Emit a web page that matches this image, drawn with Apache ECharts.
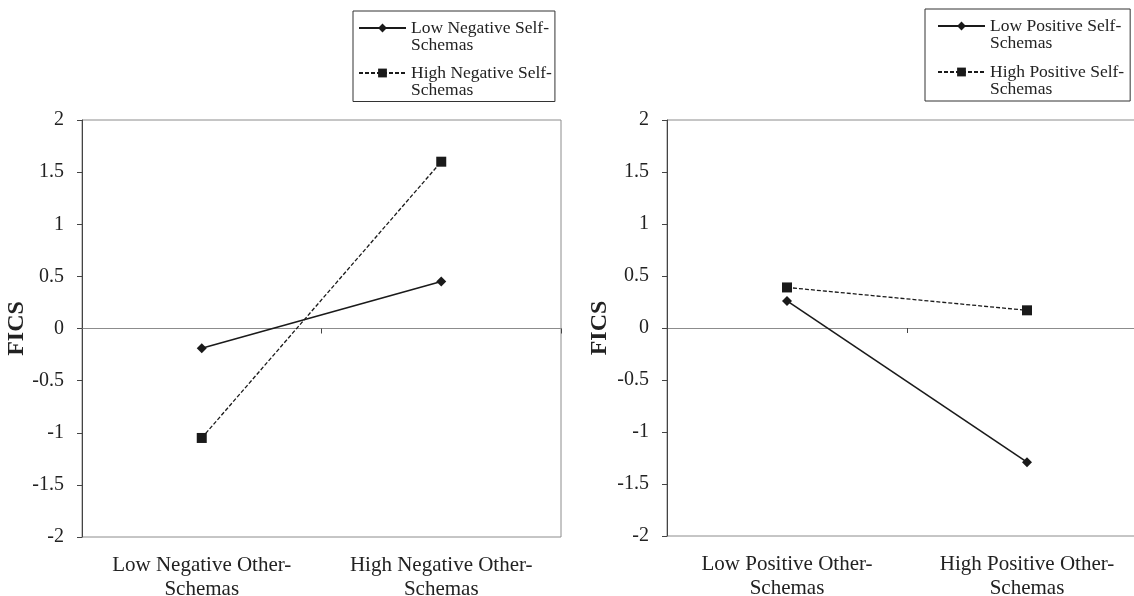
<!DOCTYPE html>
<html>
<head>
<meta charset="utf-8">
<script src="https://cdn.jsdelivr.net/npm/echarts@6/dist/echarts.min.js"></script>
<style>
html,body{margin:0;padding:0;background:#fff;}
#chart{width:1134px;height:596px;}
</style>
</head>
<body>
<div id="chart"></div>
<script>
// ---- data ----
var leftCategories = ['Low Negative Other-\nSchemas', 'High Negative Other-\nSchemas'];
var rightCategories = ['Low Positive Other-\nSchemas', 'High Positive Other-\nSchemas'];
var leftSeriesNames = ['Low Negative Self-\nSchemas', 'High Negative Self-\nSchemas'];
var rightSeriesNames = ['Low Positive Self-\nSchemas', 'High Positive Self-\nSchemas'];
var lowNegativeSelf = [-0.19, 0.45];
var highNegativeSelf = [-1.05, 1.6];
var lowPositiveSelf = [0.26, -1.29];
var highPositiveSelf = [0.39, 0.17];
var yMin = -2, yMax = 2, yInterval = 0.5;
var yAxisName = 'FICS';

var FONT = 'Liberation Serif';
var TXT = '#222';
var AXIS_DARK = '#444';
var BORDER = '#8c8c8c';

function catAxis(gridIndex, cats, withLabels) {
  if (withLabels) {
    return {
      type: 'category', gridIndex: gridIndex, data: cats, position: 'bottom',
      boundaryGap: true,
      axisLine: {show: false, onZero: false},
      axisTick: {show: false},
      axisLabel: {fontFamily: FONT, fontSize: 21, color: TXT, lineHeight: 24, margin: 16, interval: 0}
    };
  }
  return {
    type: 'category', gridIndex: gridIndex, data: cats, position: 'top',
    boundaryGap: true,
    axisLine: {show: true, onZero: true, lineStyle: {color: BORDER, width: 1}},
    axisTick: {show: true, inside: true, length: 5, lineStyle: {color: AXIS_DARK, width: 1}},
    axisLabel: {show: false}
  };
}

function valAxis(gridIndex, nameGap) {
  return {
    type: 'value', gridIndex: gridIndex, min: yMin, max: yMax, interval: yInterval,
    name: yAxisName, nameLocation: 'middle', nameGap: nameGap,
    nameTextStyle: {fontFamily: FONT, fontSize: 24, fontWeight: 'bold', color: TXT},
    axisLine: {show: true, lineStyle: {color: AXIS_DARK, width: 1}},
    axisTick: {show: true, length: 5, lineStyle: {color: AXIS_DARK}},
    axisLabel: {fontFamily: FONT, fontSize: 20, color: TXT, margin: 18},
    splitLine: {show: false}
  };
}

function lineSeries(name, data, xi, yi, symbol, dashed) {
  return {
    type: 'line', name: name, data: data, xAxisIndex: xi, yAxisIndex: yi,
    symbol: symbol, symbolSize: 10, showSymbol: true,
    itemStyle: {color: '#1a1a1a'},
    lineStyle: {color: '#1a1a1a', width: dashed ? 1.3 : 1.6, type: dashed ? [4, 2] : 'solid'},
    emphasis: {disabled: true},
    animation: false
  };
}

function legend(left, top, names, gap, padding) {
  return {
    orient: 'vertical', left: left, top: top, data: names,
    itemWidth: 47, itemHeight: 11, itemGap: gap,
    borderColor: '#333', borderWidth: 1,
    padding: padding,
    // leading blank line keeps the icon level with the first text line
    formatter: function (name) { return ' \n' + name; },
    textStyle: {fontFamily: FONT, fontSize: 17.5, color: TXT, lineHeight: 17},
    selectedMode: false
  };
}

var chart = echarts.init(document.getElementById('chart'), null, {renderer: 'canvas'});
chart.setOption({
  backgroundColor: '#fff',
  animation: false,
  grid: [
    {left: 82, right: 573, top: 120, bottom: 59, outerBoundsMode: 'none', containLabel: false,
     show: true, borderColor: BORDER, borderWidth: 1, backgroundColor: 'transparent'},
    {left: 667, right: -13, top: 120, bottom: 60, outerBoundsMode: 'none', containLabel: false,
     show: true, borderColor: BORDER, borderWidth: 1, backgroundColor: 'transparent'}
  ],
  xAxis: [
    catAxis(0, leftCategories, true),
    catAxis(0, leftCategories, false),
    catAxis(1, rightCategories, true),
    catAxis(1, rightCategories, false)
  ],
  yAxis: [valAxis(0, 49), valAxis(1, 55)],
  legend: [
    legend(353, 11, leftSeriesNames, -7, [-9, 3, 2.5, 5]),
    legend(925, 9, rightSeriesNames, -6, [-9, 6, 3, 12])
  ],
  series: [
    lineSeries(leftSeriesNames[0], lowNegativeSelf, 0, 0, 'diamond', false),
    lineSeries(leftSeriesNames[1], highNegativeSelf, 0, 0, 'rect', true),
    lineSeries(rightSeriesNames[0], lowPositiveSelf, 2, 1, 'diamond', false),
    lineSeries(rightSeriesNames[1], highPositiveSelf, 2, 1, 'rect', true)
  ]
});
</script>
</body>
</html>
